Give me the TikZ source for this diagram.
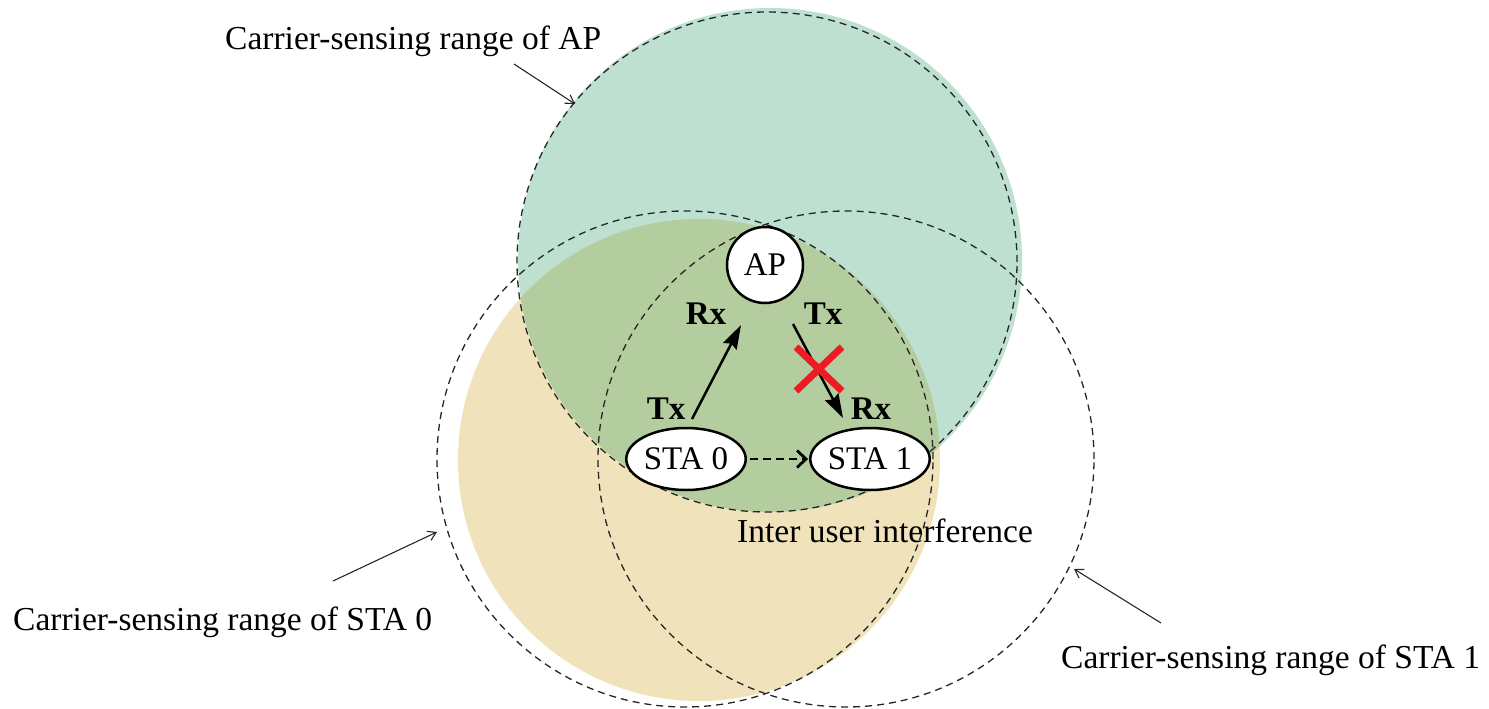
\documentclass[tikz,border=0pt]{standalone}
\usepackage{fontspec}
\setmainfont{Liberation Serif}
\usetikzlibrary{shapes.geometric,arrows.meta}
\definecolor{apfill}{RGB}{189,224,208}
\definecolor{stafill}{RGB}{240,226,186}
\definecolor{bothfill}{RGB}{179,205,158}
\definecolor{xred}{RGB}{237,28,36}
\begin{document}
\begin{tikzpicture}[x=1pt,y=-1pt,
  csrange/.style={draw=black!85, dash pattern=on 7pt off 5pt, line width=1.3pt},
  station/.style={draw=black, line width=2.5pt, fill=white, ellipse,
    minimum width=112pt, minimum height=62pt, inner sep=0pt,
    font=\fontsize{33}{33}\selectfont},
  apnode/.style={draw=black, line width=2.5pt, fill=white, circle,
    minimum size=76pt, inner sep=0pt, font=\fontsize{33}{33}\selectfont},
  dirlabel/.style={font=\fontsize{33}{33}\selectfont\bfseries, inner sep=0pt},
  caption/.style={font=\fontsize{33.5}{34}\selectfont, inner sep=0pt},
  pointer/.style={draw=black!85, line width=1.1pt, -{Straight Barb[length=8pt,width=10pt]}},
  link/.style={line width=2.5pt, -{Stealth[length=24pt,width=15pt,inset=3pt]}},
  sense/.style={line width=2.8pt, dash pattern=on 8pt off 5pt,
    -{Straight Barb[length=9pt,width=17pt]}},
]
\useasboundingbox (0,0) rectangle (1489,709);

% coverage areas: STA 0 (yellow), AP (green) and their overlap
\fill[stafill] (699,460) circle [radius=241pt];
\fill[apfill] (770,260) circle [radius=252pt];
\begin{scope}
  \clip (699,460) circle [radius=241pt];
  \fill[bothfill] (770,260) circle [radius=252pt];
\end{scope}

% carrier-sensing ranges
\draw[csrange] (767,262) circle [radius=250pt];
\draw[csrange] (685,459) circle [radius=248pt];
\draw[csrange] (846,459) circle [radius=248pt];

% stations
\node[apnode] (ap) at (765,265) {AP};
\node[station] (sta0) at (686,459) {STA 0};
\node[station] (sta1) at (870,459) {STA 1};

% uplink STA 0 -> AP and blocked downlink AP -> STA 1
\coordinate (upTail) at (692,419);
\coordinate (upTip) at (741,325);
\coordinate (downTail) at (793,324);
\coordinate (downTip) at (843,418);
\draw[link] (upTail) -- (upTip);
\draw[link] (downTail) -- (downTip);

% interference between the stations
\draw[sense, shorten <=3pt, shorten >=1pt] (sta0) -- (sta1);

% blocked transmission mark
\coordinate (block) at (819,369);
\draw[xred, line width=7pt] (block) ++(-23,-22) -- ++(46,44)
                             (block) ++(23,-22) -- ++(-46,44);

% Tx / Rx labels
\node[dirlabel, anchor=base] (rxap) at (706,324) {Rx};
\node[dirlabel, anchor=base] (txap) at (823,324) {Tx};
\node[dirlabel, anchor=base] (tx0) at (666,419) {Tx};
\node[dirlabel, anchor=base] (rx1) at (871,419) {Rx};

\node[caption, anchor=base west] (iui) at (737,542) {Inter user interference};

% range captions with pointers
\node[caption, anchor=base west] (capap) at (225,50) {Carrier-sensing range of AP};
\node[caption, anchor=base west] (cap0) at (13,630) {Carrier-sensing range of STA 0};
\node[caption, anchor=base west] (cap1) at (1061,668) {Carrier-sensing range of STA 1};

\coordinate (pApTail) at (514,64);
\coordinate (pApTip) at (575,104);
\coordinate (p0Tail) at (333,581);
\coordinate (p0Tip) at (437,532);
\coordinate (p1Tail) at (1161,623);
\coordinate (p1Tip) at (1074,569);
\draw[pointer] (pApTail) -- (pApTip);
\draw[pointer] (p0Tail) -- (p0Tip);
\draw[pointer] (p1Tail) -- (p1Tip);
\end{tikzpicture}
\end{document}
